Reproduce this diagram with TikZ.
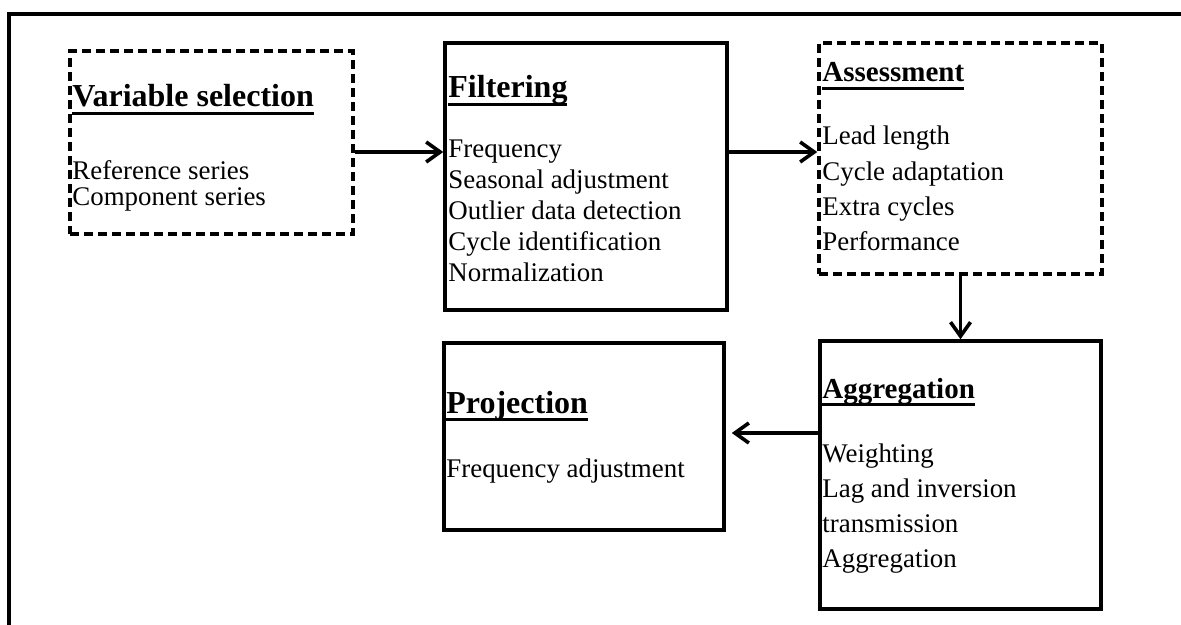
\documentclass[tikz,border=0pt]{standalone}
\usepackage{fontspec}
\setmainfont{Liberation Serif}
\usetikzlibrary{arrows.meta,calc}
\newsavebox{\headbox}
\newcommand{\headline}[1]{\sbox{\headbox}{#1}\rlap{\usebox{\headbox}}\rule[-3.9pt]{\wd\headbox}{1.4pt}}
\tikzstyle{solidbox} = [rectangle, draw, line width=1.75pt, inner sep=0pt]
\tikzstyle{dashbox} = [rectangle, draw, line width=1.75pt, dash pattern=on 4.5pt off 2.5pt, inner sep=0pt]
\tikzstyle{head} = [anchor=base west, inner sep=0pt, font=\fontsize{16}{19}\selectfont\bfseries]
\tikzstyle{smallhead} = [head, font=\fontsize{14.5}{17}\selectfont\bfseries]
\tikzstyle{item} = [anchor=base west, inner sep=0pt, font=\fontsize{13.45}{16}\selectfont]
\tikzstyle{flow} = [-{Straight Barb[length=7pt,width=10pt]}, line width=1.8pt]

\begin{document}
\begin{tikzpicture}[x=0.5pt,y=-0.5pt]
            \useasboundingbox (0,0) rectangle (1181,625);
            \draw[line width=2pt] (9,625) -- (9,14) -- (1181,14);
            \node[dashbox, minimum width=141.5pt, minimum height=91.5pt] (varsel) at (211.5,142.5) {};
            \node[solidbox, minimum width=141pt, minimum height=133.5pt] (filt) at (586,176.5) {};
            \node[dashbox, minimum width=141.5pt, minimum height=115.5pt] (assess) at (960.5,158.5) {};
            \node[solidbox, minimum width=140.5pt, minimum height=134pt] (aggr) at (960.5,475) {};
            \node[solidbox, minimum width=140pt, minimum height=93.5pt] (proj) at (584,436.5) {};
            \node[head] (varselhead) at (72,107) {\headline{Variable selection}};
            \foreach \t [count=\i] in {Reference series, Component series}
                \node[item] (varsel\i) at (72,{154.5+25.5*\i}) {\t};
            \node[head] (filthead) at (448,98) {\headline{Filtering}};
            \foreach \t [count=\i] in {Frequency, Seasonal adjustment, Outlier data detection, Cycle identification, Normalization}
                \node[item] (filt\i) at (448,{127+31*\i}) {\t};
            \node[smallhead] (assesshead) at (822,82) {\headline{Assessment}};
            \foreach \t [count=\i] in {Lead length, Cycle adaptation, Extra cycles, Performance}
                \node[item] (assess\i) at (822,{109.7+35.3*\i}) {\t};
            \node[smallhead] (aggrhead) at (822,398) {\headline{Aggregation}};
            \foreach \t [count=\i] in {Weighting, Lag and inversion, transmission, Aggregation}
                \node[item] (aggr\i) at (822,{426.7+35.3*\i}) {\t};
            \node[head] (projhead) at (446,413) {\headline{Projection}};
            \node[item] (proj1) at (446,477) {Frequency adjustment};
            \draw[flow] ([yshift=-4.75pt]varsel.east) -- ([yshift=-4.75pt]varsel.east -| filt.west);
            \draw[flow] ([yshift=12.25pt]filt.east) -- ([yshift=12.25pt]filt.east -| assess.west);
            \draw[flow] (assess.south) -- (aggr.north);
            \draw[flow, shorten >=3pt] ([yshift=21pt]aggr.west) -- ([yshift=21pt]aggr.west -| proj.east);
        \end{tikzpicture}
\end{document}
